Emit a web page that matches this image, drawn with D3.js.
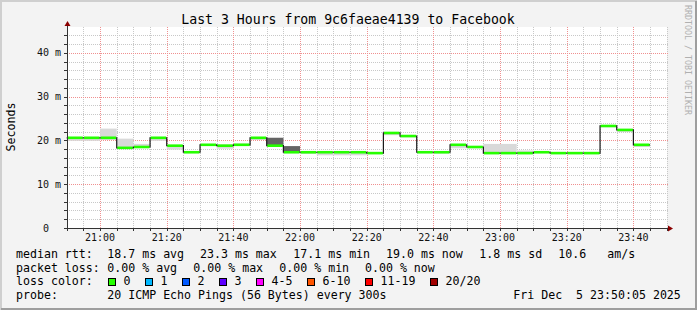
<!DOCTYPE html>
<html>
<head>
<meta charset="utf-8">
<script src="https://cdn.jsdelivr.net/npm/d3@7"></script>
<style>
  body { margin: 0; background: #f3f3f3; }
  svg text { font-family: "DejaVu Sans Mono", monospace; white-space: pre; }
</style>
</head>
<body>
<div class="container"></div>
<script>
// step start times (5 minute steps), last step ends at lastEnd
var stepTimes = ["20:50","20:55","21:00","21:05","21:10","21:15","21:20","21:25","21:30","21:35",
                 "21:40","21:45","21:50","21:55","22:00","22:05","22:10","22:15","22:20","22:25",
                 "22:30","22:35","22:40","22:45","22:50","22:55","23:00","23:05","23:10","23:15",
                 "23:20","23:25","23:30","23:35","23:40"];
var lastEnd = "23:45";

// median rtt in ms
var median = [20.6,20.6,20.6,18.3,18.5,20.6,18.8,17.3,19.0,18.8,
              19.0,20.6,18.8,17.3,17.3,17.3,17.3,17.3,17.1,21.7,
              21.0,17.3,17.3,19.0,18.5,17.1,17.1,17.1,17.3,17.1,
              17.1,17.1,23.3,22.4,19.0];
// smoke (light) range in ms
var smokeLo = [19.9,19.9,20.1,18.1,18.3,19.9,17.9,17.1,18.8,18.1,
               18.8,20.1,18.6,17.1,16.9,16.6,16.6,16.6,16.9,21.2,
               20.7,17.1,17.0,18.2,18.2,17.0,17.0,16.9,17.1,16.9,
               16.9,16.9,23.0,21.9,18.5];
var smokeHi = [20.7,20.7,22.7,20.4,19.2,20.8,18.9,17.4,19.2,19.1,
               19.3,20.7,20.6,18.7,17.4,17.4,17.4,17.4,17.2,21.8,
               21.1,17.4,17.4,19.1,18.6,19.2,19.2,17.7,17.4,17.2,
               17.2,17.2,23.4,22.5,19.1];
// dense (dark) smoke, null where none
var darkLo = [null,null,null,null,null,null,null,null,null,null,
              null,null,18.8,17.3,null,null,null,null,null,null,
              null,null,null,null,null,null,null,null,null,null,
              null,null,null,null,null];
var darkHi = [null,null,null,null,null,null,null,null,null,null,
              null,null,20.6,18.7,null,null,null,null,null,null,
              null,null,null,null,null,null,null,null,null,null,
              null,null,null,null,null];
// packet loss count per step (out of 20)
var loss = [0,0,0,0,0,0,0,0,0,0,0,0,0,0,0,0,0,0,0,0,0,0,0,0,0,0,0,0,0,0,0,0,0,0,0];

var yTicks = [0, 10, 20, 30, 40];
var lossLabels = ["0", "1", "2", "3", "4-5", "6-10", "11-19", "20/20"];
var lossColors = ["#26ff00", "#00b8ff", "#0059ff", "#5e00ff", "#ff00fe", "#ff5500", "#ff0000", "#a10000"];
var lossBins = [0, 1, 2, 3, 5, 10, 19, 20];

var rttLegend = ["median rtt:", "18.7 ms avg", "23.3 ms max", "17.1 ms min", "19.0 ms now", "1.8 ms sd", "10.6", "am/s"];
var lossLegend = ["packet loss:", "0.00 % avg", "0.00 % max", "0.00 % min", "0.00 % now"];
var probeLegend = ["probe:", "20 ICMP Echo Pings (56 Bytes) every 300s", "Fri Dec  5 23:50:05 2025"];

var loadChart = function(){
    const WIDTH = 697;
    const HEIGHT = 310;
    const LEFT = 67, RIGHT = 667, TOP = 27, BOTTOM = 228;

    var parseT = function(s){
        var p = s.split(':');
        return new Date(2025, 11, 5, +p[0], +p[1], 0);
    };
    var starts = stepTimes.map(parseT);
    var ends = starts.slice(1).concat([parseT(lastEnd)]);

    var xScale = d3.scaleTime()
        .domain([new Date(2025, 11, 5, 20, 50, 5), new Date(2025, 11, 5, 23, 50, 5)])
        .range([LEFT, RIGHT]);
    var yScale = d3.scaleLinear().domain([0, 45.9]).range([BOTTOM, TOP]);
    var lossColor = d3.scaleThreshold().domain(lossBins.slice(1).map(function(d){return d;})).range(lossColors);

    var px = function(v){ return Math.round(v) + 0.5; };

    var svg = d3.select('.container').append('svg')
        .attr('width', WIDTH)
        .attr('height', HEIGHT);

    // frame
    svg.append('rect').attr('width', WIDTH).attr('height', HEIGHT).attr('fill', '#f3f3f3');
    svg.append('path').attr('d', 'M1,' + HEIGHT + 'V1H' + WIDTH)
        .attr('fill', 'none').attr('stroke', '#cfcfcf').attr('stroke-width', 2);
    svg.append('path').attr('d', 'M1,' + (HEIGHT - 1) + 'H' + (WIDTH - 1) + 'V1')
        .attr('fill', 'none').attr('stroke', '#9e9e9e').attr('stroke-width', 2);

    svg.append('rect').attr('x', LEFT).attr('y', TOP)
        .attr('width', RIGHT - LEFT).attr('height', BOTTOM - TOP).attr('fill', '#ffffff');

    // grid
    var grid = svg.append('g');
    var minorX = xScale.ticks(d3.timeMinute.every(5));
    var majorX = xScale.ticks(d3.timeMinute.every(20));
    var minorY = d3.range(2, 46, 2).filter(function(d){ return d % 10 !== 0; });

    grid.selectAll('.vmin').data(minorX).enter().append('line')
        .attr('x1', function(d){ return px(xScale(d)); }).attr('x2', function(d){ return px(xScale(d)); })
        .attr('y1', TOP).attr('y2', BOTTOM)
        .attr('stroke', '#c8c8c8').attr('stroke-dasharray', '1,1');
    grid.selectAll('.hmin').data(minorY).enter().append('line')
        .attr('x1', LEFT - 2).attr('x2', RIGHT + 2)
        .attr('y1', function(d){ return px(yScale(d)); }).attr('y2', function(d){ return px(yScale(d)); })
        .attr('stroke', '#c8c8c8').attr('stroke-dasharray', '1,1');
    grid.selectAll('.vmaj').data(majorX).enter().append('line')
        .attr('x1', function(d){ return px(xScale(d)); }).attr('x2', function(d){ return px(xScale(d)); })
        .attr('y1', TOP).attr('y2', BOTTOM)
        .attr('stroke', '#f09090').attr('stroke-dasharray', '1,1');
    grid.selectAll('.hmaj').data(yTicks.slice(1)).enter().append('line')
        .attr('x1', LEFT - 2).attr('x2', RIGHT + 2)
        .attr('y1', function(d){ return px(yScale(d)); }).attr('y2', function(d){ return px(yScale(d)); })
        .attr('stroke', '#f09090').attr('stroke-dasharray', '1,1');

    // smoke
    var chart = svg.append('g');
    var idx = d3.range(stepTimes.length);
    chart.selectAll('.smoke').data(idx).enter().append('rect')
        .attr('x', function(i){ return xScale(starts[i]); })
        .attr('width', function(i){ return xScale(ends[i]) - xScale(starts[i]); })
        .attr('y', function(i){ return yScale(smokeHi[i]); })
        .attr('height', function(i){ return yScale(smokeLo[i]) - yScale(smokeHi[i]); })
        .attr('fill', '#d9d9d9');
    chart.selectAll('.dark').data(idx.filter(function(i){ return darkLo[i] != null; })).enter().append('rect')
        .attr('x', function(i){ return xScale(starts[i]); })
        .attr('width', function(i){ return xScale(ends[i]) - xScale(starts[i]); })
        .attr('y', function(i){ return yScale(darkHi[i]); })
        .attr('height', function(i){ return yScale(darkLo[i]) - yScale(darkHi[i]); })
        .attr('fill', '#646464');

    // median step line
    var pts = idx.map(function(i){ return [starts[i], median[i]]; });
    pts.push([ends[ends.length - 1], median[median.length - 1]]);
    var line = d3.line()
        .x(function(d){ return xScale(d[0]); })
        .y(function(d){ return yScale(d[1]); })
        .curve(d3.curveStepAfter);
    chart.append('path').attr('d', line(pts))
        .attr('fill', 'none').attr('stroke', '#1a1a1a').attr('stroke-width', 1.2);

    chart.selectAll('.med').data(idx).enter().append('line')
        .attr('x1', function(i){ return xScale(starts[i]) + 0.6; })
        .attr('x2', function(i){ return xScale(ends[i]) - 0.6; })
        .attr('y1', function(i){ return yScale(median[i]); })
        .attr('y2', function(i){ return yScale(median[i]); })
        .attr('stroke', function(i){ return lossColor(loss[i]); })
        .attr('stroke-width', 2.6);

    // axes
    var axis = svg.append('g');
    axis.selectAll('.xt').data(minorX).enter().append('line')
        .attr('x1', function(d){ return px(xScale(d)); }).attr('x2', function(d){ return px(xScale(d)); })
        .attr('y1', BOTTOM).attr('y2', BOTTOM + 3).attr('stroke', '#333');
    axis.selectAll('.yt').data(d3.range(0, 46, 2)).enter().append('line')
        .attr('x1', LEFT - 3).attr('x2', LEFT)
        .attr('y1', function(d){ return px(yScale(d)); }).attr('y2', function(d){ return px(yScale(d)); })
        .attr('stroke', '#333');
    axis.append('line').attr('x1', LEFT - 3).attr('x2', RIGHT + 2)
        .attr('y1', px(BOTTOM)).attr('y2', px(BOTTOM)).attr('stroke', '#333');
    axis.append('line').attr('x1', px(LEFT)).attr('x2', px(LEFT))
        .attr('y1', BOTTOM + 3).attr('y2', TOP - 3).attr('stroke', '#333');
    axis.append('path').attr('d', 'M' + (RIGHT + 1) + ',' + (BOTTOM - 2.5) + 'L' + (RIGHT + 6) + ',' + (BOTTOM + 0.5) + 'L' + (RIGHT + 1) + ',' + (BOTTOM + 3.5) + 'Z')
        .attr('fill', '#8b0000');
    axis.append('path').attr('d', 'M' + (LEFT - 2.5) + ',' + (TOP - 1) + 'L' + (LEFT + 0.5) + ',' + (TOP - 6) + 'L' + (LEFT + 3.5) + ',' + (TOP - 1) + 'Z')
        .attr('fill', '#8b0000');

    axis.selectAll('.xl').data(majorX).enter().append('text')
        .attr('x', function(d){ return xScale(d); }).attr('y', 241)
        .attr('text-anchor', 'middle').attr('font-size', '10px').attr('fill', '#111')
        .text(d3.timeFormat('%H:%M'));
    axis.selectAll('.yl').data(yTicks).enter().append('text')
        .attr('x', 61).attr('y', function(d){ return yScale(d); }).attr('dy', '0.36em')
        .attr('text-anchor', 'end').attr('font-size', '10px').attr('fill', '#111')
        .text(function(d){ return d === 0 ? '0  ' : d + ' m'; });

    // titles
    svg.append('text').attr('x', 348).attr('y', 24).attr('text-anchor', 'middle')
        .attr('font-size', '13.2px').attr('fill', '#000')
        .text('Last 3 Hours from 9c6faeae4139 to Facebook');
    svg.append('text').attr('transform', 'translate(15,127) rotate(-90)')
        .attr('text-anchor', 'middle').attr('font-size', '11.6px').attr('fill', '#000')
        .text('Seconds');
    svg.append('text').attr('transform', 'translate(685,5) rotate(90)')
        .attr('font-size', '8.3px').attr('fill', '#b0b0b0')
        .text('RRDTOOL / TOBI OETIKER');

    // legend
    var legend = svg.append('g').attr('font-size', '11.6px').attr('fill', '#000');
    var rttX = [16, 107.3, 200, 293.3, 386, 479.3, 558.3, 607.3];
    var lossX = [16, 107.3, 193.3, 279.3, 365];
    var probeX = [16, 107.3, 513.3];
    var putRow = function(items, xs, y){
        items.forEach(function(t, i){
            legend.append('text').attr('x', xs[i]).attr('y', y).text(t);
        });
    };
    putRow(rttLegend, rttX, 258);
    putRow(lossLegend, lossX, 271.7);
    legend.append('text').attr('x', 16).attr('y', 285.4).text('loss color:');
    var boxX = [108.5, 145.5, 182.5, 219.5, 256.5, 307.5, 365.5, 430.5];
    lossLabels.forEach(function(l, i){
        legend.append('rect').attr('x', boxX[i]).attr('y', 278.5).attr('width', 7).attr('height', 7)
            .attr('fill', lossColors[i]).attr('stroke', '#000').attr('stroke-width', 1);
        legend.append('text').attr('x', boxX[i] + 15).attr('y', 285.4).text(l);
    });
    putRow(probeLegend, probeX, 299.1);
};

window.onload = loadChart();
</script>
</body>
</html>
